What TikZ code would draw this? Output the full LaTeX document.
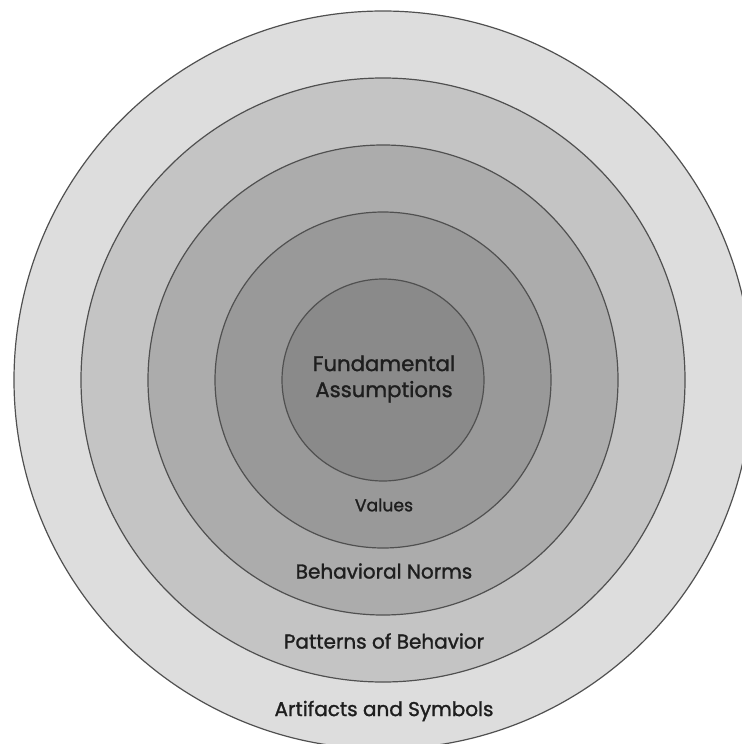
\documentclass[tikz,border=0pt]{standalone}
\usepackage{fontspec}
\setmainfont{Poppins}
\newfontfamily\ringfont[FakeBold=1.3]{Poppins}
\usepackage{tikz}

\definecolor{ringArtifacts}{RGB}{221,221,221}
\definecolor{ringPatterns}{RGB}{196,196,196}
\definecolor{ringNorms}{RGB}{172,172,172}
\definecolor{ringValues}{RGB}{153,153,153}
\definecolor{ringCore}{RGB}{138,138,138}
\definecolor{ringEdge}{RGB}{80,80,80}
\definecolor{labelInk}{RGB}{30,30,30}

\begin{document}
\begin{tikzpicture}[x=0.5pt, y=-0.5pt,
		ring/.style={draw=ringEdge, line width=0.6pt},
		layer/.style={text=labelInk, font=\ringfont\fontsize{10}{12}\selectfont, align=center, inner sep=0pt}]
		%%%%% START %%%%%
		
		\useasboundingbox (0, 0) rectangle (742, 744);
		\clip (0, 0) rectangle (742, 744);
		
		\coordinate (c) at (383, 380);
		
		\draw[ring, fill=ringArtifacts] (c) circle (369);
		\draw[ring, fill=ringPatterns] (c) circle (302);
		\draw[ring, fill=ringNorms] (c) circle (235);
		\draw[ring, fill=ringValues] (c) circle (168);
		\draw[ring, fill=ringCore] (c) circle (101);
		
		\node[layer, font=\ringfont\fontsize{10.6}{13}\selectfont] (core) at (384, 379) {Fundamental\\Assumptions};
		\node[layer, font=\ringfont\fontsize{8.6}{10}\selectfont] (values) at (384, 505) {Values};
		\node[layer] (norms) at (384, 571) {Behavioral Norms};
		\node[layer] (patterns) at (384, 641) {Patterns of Behavior};
		\node[layer] (artifacts) at (384, 711) {Artifacts and Symbols};
		
		%%%%% END %%%%%
	\end{tikzpicture}
\end{document}
